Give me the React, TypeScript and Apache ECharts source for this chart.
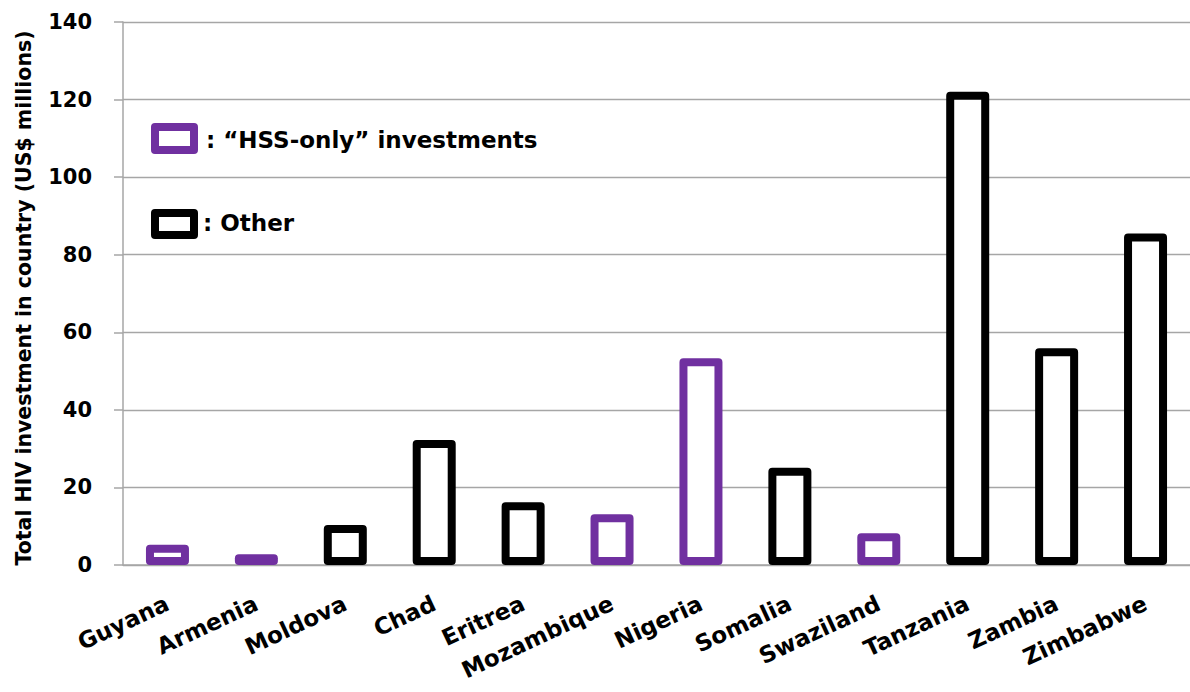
import React, { useEffect, useRef } from "react";
import * as echarts from "echarts";

const categories = ["Guyana", "Armenia", "Moldova", "Chad", "Eritrea", "Mozambique", "Nigeria", "Somalia", "Swaziland", "Tanzania", "Zambia", "Zimbabwe"];
const values = [5.2, 2.8, 10.3, 32.2, 16.2, 13.1, 53.3, 25.1, 8.2, 122.0, 55.9, 85.5];
const groups = ["hss", "hss", "other", "other", "other", "hss", "hss", "other", "hss", "other", "other", "other"];
const yTicks = { min: 0, max: 140, interval: 20 };
const legendLabels = [": \u201cHSS-only\u201d investments", ": Other"];
const yTitle = "Total HIV investment in country (US$ millions)";

const PURPLE = "#7030A0";
const BLACK = "#000000";
const FONT = "DejaVu Sans";

export default function App() {
  const ref = useRef<HTMLDivElement>(null);
  useEffect(() => {
    if (!ref.current) return;
    const chart = echarts.init(ref.current, null, { renderer: "svg" });
    const data = values.map((v, i) => ({
      value: v,
      itemStyle: {
        color: "#ffffff",
        borderColor: groups[i] === "hss" ? PURPLE : BLACK,
        borderWidth: 8,
        borderJoin: "round",
      },
    }));
    chart.setOption({
      animation: false,
      backgroundColor: "#ffffff",
      grid: { left: 123, right: 0, top: 22, bottom: 127, containLabel: false },
      xAxis: {
        type: "category",
        data: categories,
        axisLine: { lineStyle: { color: "#A6A6A6", width: 1.5 } },
        axisTick: { show: false },
        axisLabel: {
          rotate: 25,
          margin: 37,
          interval: 0,
          fontFamily: FONT,
          fontWeight: "bold",
          fontSize: 23,
          color: "#000",
        },
      },
      yAxis: {
        type: "value",
        min: yTicks.min,
        max: yTicks.max,
        interval: yTicks.interval,
        axisLine: { show: true, lineStyle: { color: "#A6A6A6", width: 1.5 } },
        axisTick: { show: true, inside: false, length: 9, lineStyle: { color: "#A6A6A6", width: 1.5 } },
        splitLine: { lineStyle: { color: "#A6A6A6", width: 1.3 } },
        axisLabel: {
          margin: 31,
          fontFamily: FONT,
          fontWeight: "bold",
          fontSize: 21,
          color: "#000",
        },
      },
      series: [
        {
          type: "bar",
          data,
          barWidth: 43,
        },
      ],
      graphic: [
        {
          type: "text",
          x: 24,
          y: 298,
          rotation: Math.PI / 2,
          style: {
            text: yTitle,
            fontFamily: FONT,
            fontWeight: "bold",
            fontSize: 20.5,
            fill: "#000",
            textAlign: "center",
            textVerticalAlign: "middle",
          },
        },
        {
          type: "rect",
          shape: { x: 155, y: 127, width: 39, height: 23 },
          style: { fill: "#fff", stroke: PURPLE, lineWidth: 8, lineJoin: "round" },
        },
        {
          type: "text",
          x: 206,
          y: 140,
          style: {
            text: legendLabels[0],
            fontFamily: FONT,
            fontWeight: "bold",
            fontSize: 23,
            fill: "#000",
            textAlign: "left",
            textVerticalAlign: "middle",
          },
        },
        {
          type: "rect",
          shape: { x: 155, y: 213, width: 39, height: 22 },
          style: { fill: "#fff", stroke: BLACK, lineWidth: 8, lineJoin: "round" },
        },
        {
          type: "text",
          x: 203,
          y: 223,
          style: {
            text: legendLabels[1],
            fontFamily: FONT,
            fontWeight: "bold",
            fontSize: 23,
            fill: "#000",
            textAlign: "left",
            textVerticalAlign: "middle",
          },
        },
      ],
    });
    return () => chart.dispose();
  }, []);
  return (
    <div
      ref={ref}
      style={{ position: "fixed", left: 0, top: 0, width: 1190, height: 692, background: "#fff" }}
    />
  );
}
